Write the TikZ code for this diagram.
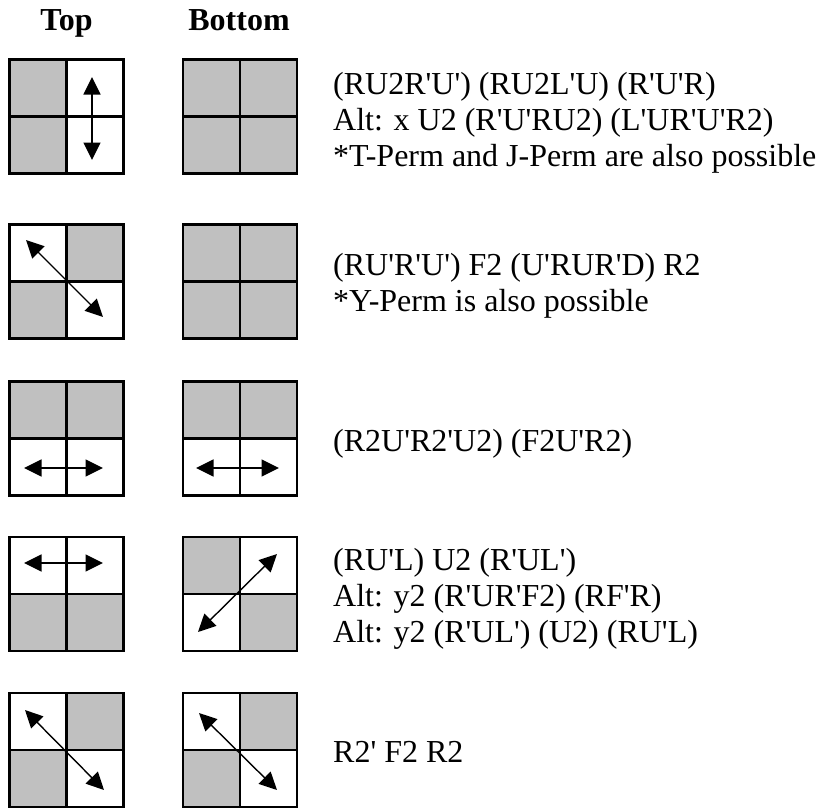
\documentclass[tikz,border=0pt]{standalone}
\usepackage{fontspec}
\setmainfont{Liberation Serif}[Ligatures=TeXOff]
\usetikzlibrary{arrows.meta}
\definecolor{facegrey}{HTML}{C0C0C0}
\tikzset{
  gridline/.style={line width=2.7pt, draw=black},
  swaparrow/.style={line width=1.4pt,
    {Triangle[length=17.5pt,width=17pt]}-{Triangle[length=17.5pt,width=17pt]}},
  algtext/.style={anchor=base west, inner sep=0pt,
    font=\fontsize{32}{36}\selectfont},
  headtext/.style={anchor=base, inner sep=0pt,
    font=\fontsize{32}{36}\selectfont\bfseries},
}
% 2x2 face: #1,#2 = top-left corner; #3..#6 = fills of TL, TR, BL, BR
\newcommand\facegrid[6]{%
  \begin{scope}[shift={(#1,#2)}]
    \fill[#3] (0,0) rectangle (57,57);
    \fill[#4] (57,0) rectangle (114,57);
    \fill[#5] (0,57) rectangle (57,114);
    \fill[#6] (57,57) rectangle (114,114);
    \draw[gridline] (0,0) rectangle (114,114)
      (57,0) -- (57,114) (0,57) -- (114,57);
  \end{scope}}
\begin{document}
\begin{tikzpicture}[x=1pt,y=-1pt]
\useasboundingbox (0,0) rectangle (823,809);

% column headings
\node[headtext] (hTop) at (66.5,30) {Top};
\node[headtext] (hBottom) at (239,30) {Bottom};

% row 1
\facegrid{9.8}{59.7}{facegrey}{white}{facegrey}{white}
\facegrid{183}{59.7}{facegrey}{facegrey}{facegrey}{facegrey}
\coordinate (r1a) at (92,77);
\coordinate (r1b) at (92,160);
\draw[swaparrow] (r1a) -- (r1b);
\node[algtext] (t1a) at (333,94) {(RU2R'U') (RU2L'U) (R'U'R)};
\node[algtext] (t1b) at (333,130) {Alt: x U2 (R'U'RU2) (L'UR'U'R2)};
\node[algtext] (t1c) at (333,166) {*T-Perm and J-Perm are also possible};

% row 2
\facegrid{9.8}{224.7}{white}{facegrey}{facegrey}{white}
\facegrid{183}{224.7}{facegrey}{facegrey}{facegrey}{facegrey}
\coordinate (r2a) at (26,240);
\coordinate (r2b) at (103,317);
\draw[swaparrow] (r2a) -- (r2b);
\node[algtext] (t2a) at (333,275) {(RU'R'U') F2 (U'RUR'D) R2};
\node[algtext] (t2b) at (333,311) {*Y-Perm is also possible};

% row 3
\facegrid{9.8}{381.3}{facegrey}{facegrey}{white}{white}
\facegrid{183}{381.3}{facegrey}{facegrey}{white}{white}
\coordinate (r3a) at (24,468);
\coordinate (r3b) at (103,468);
\coordinate (r3c) at (196,468);
\coordinate (r3d) at (279,468);
\draw[swaparrow] (r3a) -- (r3b);
\draw[swaparrow] (r3c) -- (r3d);
\node[algtext] (t3a) at (333,451) {(R2U'R2'U2) (F2U'R2)};

% row 4
\facegrid{9.8}{537}{white}{white}{facegrey}{facegrey}
\facegrid{183}{537}{facegrey}{white}{white}{facegrey}
\coordinate (r4a) at (24,563);
\coordinate (r4b) at (103,563);
\coordinate (r4c) at (277,554);
\coordinate (r4d) at (198,632);
\draw[swaparrow] (r4a) -- (r4b);
\draw[swaparrow] (r4c) -- (r4d);
\node[algtext] (t4a) at (333,570) {(RU'L) U2 (R'UL')};
\node[algtext] (t4b) at (333,606) {Alt: y2 (R'UR'F2) (RF'R)};
\node[algtext] (t4c) at (333,642) {Alt: y2 (R'UL') (U2) (RU'L)};

% row 5
\facegrid{9.8}{693}{white}{facegrey}{facegrey}{white}
\facegrid{183}{693}{white}{facegrey}{facegrey}{white}
\coordinate (r5a) at (25,710);
\coordinate (r5b) at (104,790);
\coordinate (r5c) at (199,713);
\coordinate (r5d) at (277,790);
\draw[swaparrow] (r5a) -- (r5b);
\draw[swaparrow] (r5c) -- (r5d);
\node[algtext] (t5a) at (333,762) {R2' F2 R2};
\end{tikzpicture}
\end{document}
